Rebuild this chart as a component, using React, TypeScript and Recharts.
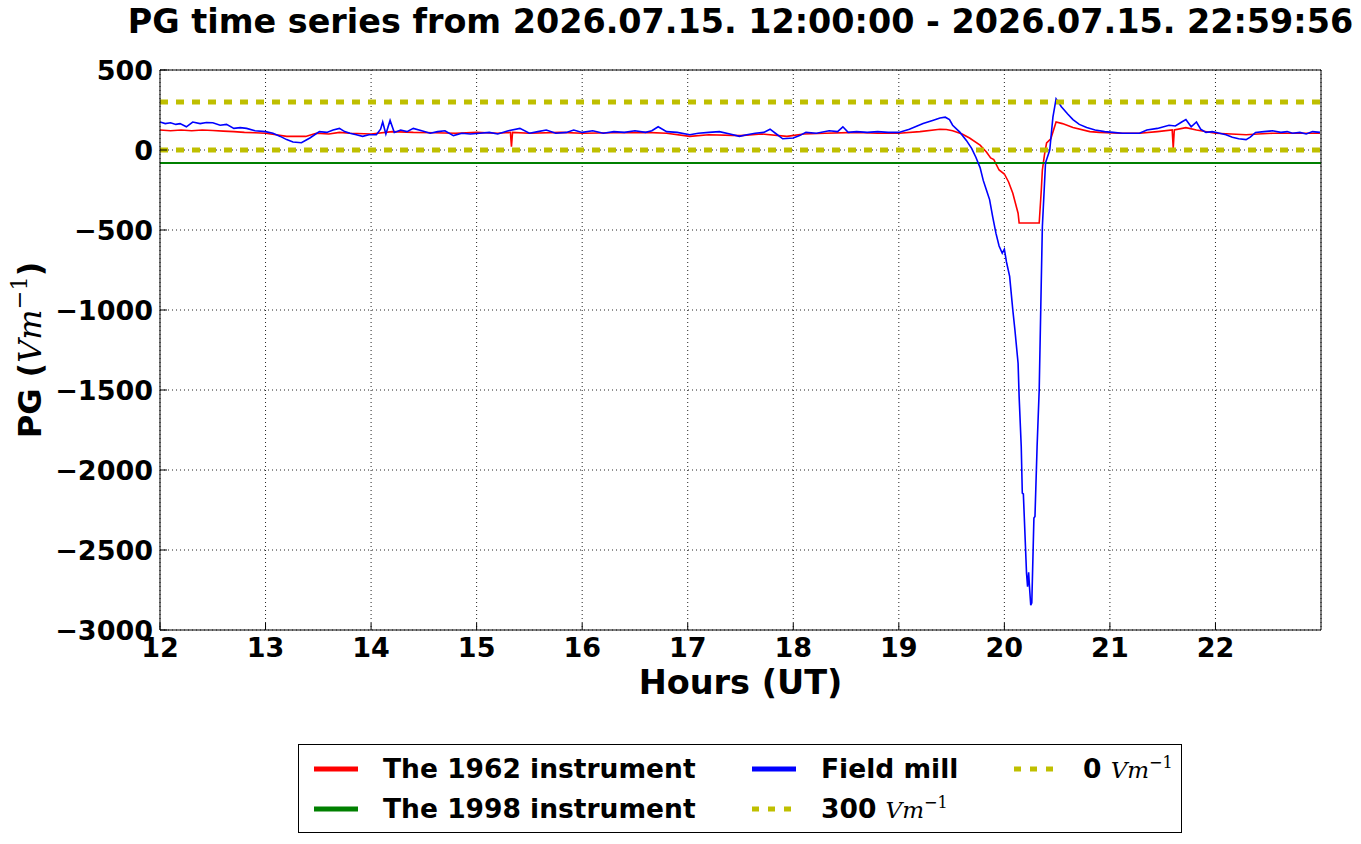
import React from 'react';
import { LineChart, Line, XAxis, YAxis, CartesianGrid, ReferenceLine } from 'recharts';

// time in hours (UT), values in V/m
const redTimes = [
  12.0, 12.1, 12.2, 12.3, 12.4, 12.5, 12.6, 12.7, 12.8, 12.9, 13.0, 13.1, 13.2, 13.26, 13.38, 13.48,
  13.6, 13.7, 13.8, 14.0, 14.2, 14.4, 14.6, 14.8, 15.0, 15.2, 15.32, 15.33, 15.34, 15.5, 15.8, 16.0,
  16.3, 16.6, 16.8, 17.02, 17.2, 17.5, 17.7, 17.94, 18.1, 18.3, 18.6, 18.8, 19.0, 19.2, 19.39, 19.45,
  19.51, 19.6, 19.67, 19.77, 19.83, 19.87, 19.9, 19.95, 20.0, 20.04, 20.08, 20.13, 20.14, 20.33, 20.35,
  20.36, 20.38, 20.4, 20.44, 20.49, 20.55, 20.65, 20.81, 20.9, 21.1, 21.28, 21.45, 21.59, 21.6, 21.61,
  21.72, 21.82, 22.0, 22.15, 22.29, 22.4, 22.54, 22.8, 22.99,
];
const redValues = [
  125, 120, 125, 120, 125, 122, 118, 115, 110, 108, 105, 95, 85, 85, 85, 105,
  100, 110, 105, 100, 115, 110, 108, 105, 110, 105, 110, 20, 110, 105, 110, 105,
  108, 110, 105, 85, 95, 90, 100, 85, 100, 105, 110, 105, 105, 115, 130, 128,
  120, 100, 75, 30, -12, -50, -60, -125, -150, -200, -270, -395, -456, -456, -250,
  -125, -30, 45, 70, 175, 165, 140, 115, 110, 105, 105, 115, 125, 12, 125,
  140, 125, 105, 100, 95, 100, 105, 105, 105,
];

const blueTimes = [
  12.0, 12.05, 12.1, 12.15, 12.19, 12.25, 12.31, 12.38, 12.44, 12.5, 12.57, 12.63, 12.7, 12.76, 12.82, 12.9,
  13.0, 13.07, 13.14, 13.2, 13.26, 13.34, 13.42, 13.51, 13.58, 13.64, 13.7, 13.75, 13.8, 13.86, 13.92, 13.98,
  14.05, 14.09, 14.11, 14.14, 14.18, 14.22, 14.28, 14.34, 14.4, 14.48, 14.56, 14.63, 14.7, 14.78, 14.86, 14.94,
  15.03, 15.12, 15.2, 15.3, 15.41, 15.5, 15.58, 15.66, 15.75, 15.85, 15.92, 16.0, 16.1, 16.2, 16.3, 16.4,
  16.5, 16.6, 16.66, 16.72, 16.8, 16.9, 17.02, 17.1, 17.2, 17.3, 17.4, 17.49, 17.56, 17.64, 17.72, 17.78,
  17.84, 17.9, 18.0, 18.06, 18.12, 18.22, 18.34, 18.42, 18.47, 18.52, 18.6, 18.7, 18.8, 18.9, 19.0, 19.1,
  19.23, 19.32, 19.39, 19.44, 19.48, 19.51, 19.58, 19.64, 19.69, 19.73, 19.77, 19.8, 19.83, 19.86, 19.89, 19.92,
  19.95, 19.98, 20.0, 20.02, 20.05, 20.08, 20.1, 20.13, 20.14, 20.16, 20.17, 20.18, 20.2, 20.21, 20.22, 20.23,
  20.24, 20.25, 20.26, 20.28, 20.29, 20.31, 20.33, 20.35, 20.36, 20.39, 20.43, 20.46, 20.49, 20.54, 20.6, 20.65,
  20.71, 20.78, 20.86, 20.95, 21.03, 21.12, 21.22, 21.28, 21.35, 21.45, 21.56, 21.62, 21.68, 21.72, 21.77, 21.82,
  21.86, 21.91, 21.97, 22.04, 22.1, 22.16, 22.22, 22.29, 22.33, 22.38, 22.46, 22.54, 22.62, 22.68, 22.73, 22.8,
  22.86, 22.92, 22.99,
];
const blueValues = [
  175, 165, 170, 160, 165, 145, 175, 165, 172, 170, 155, 160, 135, 140, 135, 120,
  115, 105, 85, 65, 50, 45, 75, 115, 110, 125, 135, 115, 105, 95, 85, 95,
  95, 130, 175, 100, 185, 110, 125, 115, 135, 120, 105, 115, 120, 90, 105, 100,
  105, 110, 100, 120, 135, 105, 115, 125, 105, 110, 125, 110, 120, 105, 115, 110,
  120, 110, 120, 145, 115, 110, 95, 105, 110, 115, 100, 85, 95, 105, 110, 130,
  100, 70, 75, 90, 110, 105, 120, 115, 145, 110, 115, 110, 115, 110, 110, 130,
  165, 185, 200, 205, 190, 155, 110, 60, 10, -45, -110, -190, -250, -310, -420, -520,
  -600, -645, -620, -700, -790, -1000, -1125, -1333, -1543, -1856, -2145, -2150, -2480, -2645, -2730, -2640,
  -2750, -2845, -2830, -2300, -2290, -1856, -1500, -812, -480, -80, 0, 205, 320, 270, 225, 190,
  160, 140, 125, 115, 110, 105, 105, 105, 125, 135, 155, 150, 175, 190, 145, 175,
  130, 110, 115, 105, 95, 80, 70, 65, 80, 110, 115, 120, 110, 115, 105, 110,
  100, 115, 110,
];

const greenTimes = [12.0, 23.0];
const greenValues = [-82, -82];

const xTicks = [12, 13, 14, 15, 16, 17, 18, 19, 20, 21, 22];
const yTicks = [-3000, -2500, -2000, -1500, -1000, -500, 0, 500];
const thresholds = [300, 0];

const redData = redTimes.map((t, i) => ({ t, v: redValues[i] }));
const blueData = blueTimes.map((t, i) => ({ t, v: blueValues[i] }));
const greenData = greenTimes.map((t, i) => ({ t, v: greenValues[i] }));

const FONT = '"DejaVu Sans", sans-serif';
const MATH = '"DejaVu Serif", "Liberation Serif", serif';
const YELLOW = '#bfbf00';

const tickStyle = { fill: '#000', fontSize: 27, fontWeight: 'bold', fontFamily: FONT };
const fmtY = (v: number) => String(v).replace('-', '\u2212');

const Unit = ({ size }: { size: number }) => (
  <span style={{ fontFamily: MATH, fontStyle: 'italic', fontWeight: 'normal', fontSize: size }}>
    Vm<span style={{ fontSize: size * 0.7, fontStyle: 'normal', position: 'relative', top: -size * 0.45 }}>{'\u2212'}1</span>
  </span>
);

const LegendMark = ({ color, dotted }: { color: string; dotted?: boolean }) => (
  <svg width={44} height={10} style={{ position: 'absolute', left: 0, top: 9 }}>
    <line x1={0} y1={5} x2={dotted ? 40 : 44} y2={5} stroke={color} strokeWidth={5}
      strokeDasharray={dotted ? '7 9' : undefined} />
  </svg>
);

const legendItems = [
  { left: 15, top: 10, color: '#ff0000', label: 'The 1962 instrument' },
  { left: 15, top: 50, color: '#008000', label: 'The 1998 instrument' },
  { left: 453, top: 10, color: '#0000ff', label: 'Field mill' },
  { left: 453, top: 50, color: YELLOW, dotted: true, label: '300', unit: true },
  { left: 715, top: 10, color: YELLOW, dotted: true, label: '0', unit: true },
];

export default function App() {
  return (
    <div style={{ position: 'absolute', left: 0, top: 0, width: 1361, height: 844, background: '#fff', fontFamily: FONT }}>
      <div style={{ position: 'absolute', left: 0, width: 1481, top: 2, textAlign: 'center', fontSize: 33.4, fontWeight: 'bold', whiteSpace: 'nowrap' }}>
        PG time series from 2026.07.15. 12:00:00 - 2026.07.15. 22:59:56
      </div>

      <LineChart width={1361} height={844} data={redData} margin={{ top: 60, right: 30, bottom: 184, left: 100 }}>
        <CartesianGrid stroke="#222" strokeDasharray="1 3" strokeWidth={1} />
        <XAxis dataKey="t" type="number" domain={[12, 23]} ticks={xTicks} allowDataOverflow height={30}
          tick={tickStyle} tickSize={-7} tickMargin={15} stroke="#000" interval={0} />
        <XAxis xAxisId="top" orientation="top" type="number" domain={[12, 23]} ticks={xTicks} height={10}
          tick={false} tickSize={-7} stroke="#000" />
        <YAxis type="number" domain={[-3000, 500]} ticks={yTicks} allowDataOverflow width={60}
          tick={tickStyle} tickSize={-7} tickMargin={14} tickFormatter={fmtY} stroke="#000" interval={0} />
        <YAxis yAxisId="right" orientation="right" type="number" domain={[-3000, 500]} ticks={yTicks} width={10}
          tick={false} tickSize={-7} stroke="#000" />
        <Line data={redData} dataKey="v" stroke="#ff0000" strokeWidth={1.6} dot={false} isAnimationActive={false} />
        <Line data={greenData} dataKey="v" stroke="#008000" strokeWidth={2} dot={false} isAnimationActive={false} />
        <Line data={blueData} dataKey="v" stroke="#0000ff" strokeWidth={1.6} dot={false} isAnimationActive={false} />
        {thresholds.map((y) => (
          <ReferenceLine key={y} y={y} stroke={YELLOW} strokeWidth={5} strokeDasharray="8 8" />
        ))}
      </LineChart>

      <div style={{ position: 'absolute', left: 160, width: 1161, top: 663, textAlign: 'center', fontSize: 33.5, fontWeight: 'bold' }}>
        Hours (UT)
      </div>

      <div style={{ position: 'absolute', left: 30, top: 350, width: 0, height: 0 }}>
        <div style={{ position: 'absolute', transform: 'translate(-50%, -50%) rotate(-90deg)', whiteSpace: 'nowrap', fontSize: 32, fontWeight: 'bold', lineHeight: 1 }}>
          PG (<Unit size={32} />)
        </div>
      </div>

      <div style={{ position: 'absolute', left: 298, top: 744, width: 882, height: 87, border: '1px solid #000' }}>
        {legendItems.map((it) => (
          <div key={it.label} style={{ position: 'absolute', left: it.left, top: it.top, height: 30 }}>
            <LegendMark color={it.color} dotted={it.dotted} />
            <div style={{ position: 'absolute', left: 69, top: 0, whiteSpace: 'nowrap', fontSize: 26.5, fontWeight: 'bold', lineHeight: '28px' }}>
              {it.label}{it.unit ? <> <Unit size={23} /></> : null}
            </div>
          </div>
        ))}
      </div>
    </div>
  );
}
